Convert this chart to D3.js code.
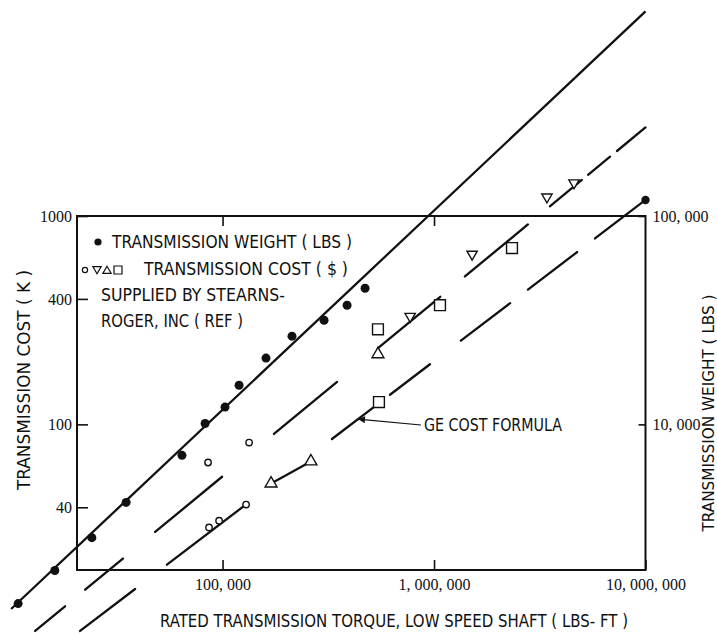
<!DOCTYPE html>
<html>
<head>
<meta charset="utf-8">
<script src="https://cdn.jsdelivr.net/npm/d3@7"></script>
<style>
  html, body { margin: 0; padding: 0; background: #fff; }
  svg { display: block; }
  .cap { font-family: "Liberation Sans Narrow", "Arial Narrow", "DejaVu Sans Condensed", sans-serif; fill: #111; }
  .num { font-family: "Liberation Serif", "DejaVu Serif", serif; fill: #111; }
</style>
</head>
<body>
<svg id="chart" width="717" height="637"></svg>
<script>
// ---- axis extents and ticks ----
const torqueExtent = [20500, 10000000];      // lbs-ft, low speed shaft
const costExtent = [20, 1000];               // $K
const weightExtent = [2000, 100000];         // lbs
const torqueTicks = [100000, 1000000, 10000000];
const torqueTickLabels = ["100, 000", "1, 000, 000", "10, 000, 000"];
const costTicks = [40, 100, 400, 1000];
const costTickLabels = ["40", "100", "400", "1000"];
const weightTicks = [10000, 100000];
const weightTickLabels = ["10, 000", "100, 000"];

// ---- transmission weight (lbs) ----
const weightTorque = [10800, 16100, 24100, 35000, 64300, 82700, 102700, 119700, 160500, 213000, 302000, 388000, 472000];
const weightLbs    = [1380, 1990, 2860, 4220, 7100, 10100, 12100, 15400, 20800, 26500, 31600, 37300, 45000];
const weightFitTorque = [10000, 10000000];
const weightFitLbs    = [1300, 960000];

// ---- transmission cost ($K), Stearns-Roger quotes ----
const circleTorque  = [85400, 86300, 96300, 129200, 133500];
const circleCost    = [65.6, 32.0, 34.5, 41.2, 81.8];
const triUpTorque   = [169600, 261700, 543000];
const triUpCost     = [52.0, 66.4, 217];
const triDownTorque = [771000, 1514000, 3420000, 4590000];
const triDownCost   = [330, 656, 1234, 1443];
const squareTorque  = [543000, 549000, 1067000, 2337000];
const squareCost    = [286, 128, 373, 702];

// ---- GE cost formula (upper and lower bands), drawn in broken runs ----
const geUpperTorque = [13000, 10000000];
const geUpperCost   = [10.2, 2660];
const geUpperRuns = [[13000, 18000], [22400, 33800], [48000, 99500], [175000, 348000],
  [543000, 1070000], [1400000, 2780000], [3530000, 5000000], [5350000, 6800000], [7330000, 10000000]];
const geLowerTorque = [21200, 10000000];
const geLowerCost   = [10.2, 1194];
const geLowerRuns = [[21200, 38600], [54600, 132000], [329000, 538000], [619000, 957000],
  [1340000, 2290000], [2780000, 4750000], [5770000, 10000000]];
const geArrowTorque = 437000;

// ---- layout ----
const svg = d3.select("#chart");
const ink = "#111";
const x = d3.scaleLog().domain(torqueExtent).range([77, 645.5]);
const y = d3.scaleLog().domain(costExtent).range([570, 216]);
const yW = d3.scaleLog().domain(weightExtent).range([570, 216]);

// straight line in log-log space through two anchor points
function powerLine(ts, vs) {
  const s = d3.scaleLinear().domain(ts.map(Math.log10)).range(vs.map(Math.log10));
  return t => Math.pow(10, s(Math.log10(t)));
}
const geUpper = powerLine(geUpperTorque, geUpperCost);
const geLower = powerLine(geLowerTorque, geLowerCost);

// frame
const [x0, x1] = x.range();
const [y0, y1] = y.range();
svg.append("path")
  .attr("d", `M${x0},${y1}L${x1},${y1}L${x1},${y0}L${x0},${y0}Z`)
  .attr("fill", "none").attr("stroke", ink).attr("stroke-width", 2);

// axes
function styleAxis(g) {
  g.select(".domain").remove();
  g.selectAll("line").attr("stroke", ink).attr("stroke-width", 1.6);
  g.selectAll("text").attr("class", "num").attr("font-size", 16);
}
svg.append("g").attr("transform", `translate(0,${y0})`)
  .call(d3.axisBottom(x).tickValues(torqueTicks).tickFormat((d, i) => torqueTickLabels[i])
    .tickSize(-10).tickSizeOuter(0).tickPadding(9))
  .call(styleAxis);
svg.append("g").attr("transform", `translate(0,${y1})`)
  .call(d3.axisTop(x).tickValues(torqueTicks.slice(0, 2)).tickFormat("")
    .tickSize(-10).tickSizeOuter(0))
  .call(styleAxis);
svg.append("g").attr("transform", `translate(${x0},0)`)
  .call(d3.axisLeft(y).tickValues(costTicks).tickFormat((d, i) => costTickLabels[i])
    .tickSize(-11).tickSizeOuter(0).tickPadding(5))
  .call(styleAxis);
svg.append("g").attr("transform", `translate(${x1},0)`)
  .call(d3.axisRight(yW).tickValues(weightTicks).tickFormat((d, i) => weightTickLabels[i])
    .tickSize(-7).tickSizeOuter(0).tickPadding(7))
  .call(styleAxis);

// axis titles
svg.append("text").attr("class", "cap").attr("font-size", 17)
  .attr("x", 160).attr("y", 627).attr("textLength", 468).attr("lengthAdjust", "spacingAndGlyphs")
  .text("RATED TRANSMISSION TORQUE, LOW SPEED SHAFT ( LBS- FT )");
svg.append("text").attr("class", "cap").attr("font-size", 17)
  .attr("transform", "translate(30,380) rotate(-90)").attr("text-anchor", "middle")
  .attr("textLength", 220).attr("lengthAdjust", "spacingAndGlyphs")
  .text("TRANSMISSION COST ( K )");
svg.append("text").attr("class", "cap").attr("font-size", 16)
  .attr("transform", "translate(714,413) rotate(-90)").attr("text-anchor", "middle")
  .attr("textLength", 237).attr("lengthAdjust", "spacingAndGlyphs")
  .text("TRANSMISSION WEIGHT ( LBS )");

// weight trend line
svg.append("line")
  .attr("x1", x(weightFitTorque[0])).attr("y1", yW(weightFitLbs[0]))
  .attr("x2", x(weightFitTorque[1])).attr("y2", yW(weightFitLbs[1]))
  .attr("stroke", ink).attr("stroke-width", 2.3);

// GE formula runs
function drawRuns(runs, fn) {
  svg.append("g").selectAll("line").data(runs).join("line")
    .attr("x1", d => x(d[0])).attr("y1", d => y(fn(d[0])))
    .attr("x2", d => x(d[1])).attr("y2", d => y(fn(d[1])))
    .attr("stroke", ink).attr("stroke-width", 2.3).attr("stroke-linecap", "round");
}
drawRuns(geUpperRuns, geUpper);
drawRuns(geLowerRuns, geLower);
// end marker of the lower band
svg.append("circle")
  .attr("cx", x(geLowerTorque[1])).attr("cy", y(geLowerCost[1])).attr("r", 4.2).attr("fill", ink);

// quote link between first two up-triangle points
svg.append("line")
  .attr("x1", x(triUpTorque[0])).attr("y1", y(triUpCost[0]))
  .attr("x2", x(triUpTorque[1])).attr("y2", y(triUpCost[1]))
  .attr("stroke", ink).attr("stroke-width", 2.2);

// weight points
svg.append("g").selectAll("circle").data(weightTorque).join("circle")
  .attr("cx", d => x(d)).attr("cy", (d, i) => yW(weightLbs[i])).attr("r", 4.5).attr("fill", ink);

// cost points
const hollow = g => g.attr("fill", "#fff").attr("stroke", ink).attr("stroke-width", 1.4);
svg.append("g").selectAll("circle").data(circleTorque).join("circle")
  .attr("cx", d => x(d)).attr("cy", (d, i) => y(circleCost[i])).attr("r", 3.2).call(hollow);
const triUp = d3.symbol(d3.symbolTriangle, 62);
const triDown = d3.symbol(d3.symbolTriangle, 46);
const square = d3.symbol(d3.symbolSquare, 118);
svg.append("g").selectAll("path").data(triUpTorque).join("path")
  .attr("d", triUp).attr("transform", (d, i) => `translate(${x(d)},${y(triUpCost[i])})`).call(hollow);
svg.append("g").selectAll("path").data(triDownTorque).join("path")
  .attr("d", triDown).attr("transform", (d, i) => `translate(${x(d)},${y(triDownCost[i])}) rotate(180)`).call(hollow);
svg.append("g").selectAll("path").data(squareTorque).join("path")
  .attr("d", square).attr("transform", (d, i) => `translate(${x(d)},${y(squareCost[i])})`).call(hollow);

// GE formula callout
const defs = svg.append("defs");
defs.append("marker").attr("id", "head").attr("viewBox", "0 0 10 10")
  .attr("refX", 10).attr("refY", 5).attr("markerWidth", 11).attr("markerHeight", 7)
  .attr("markerUnits", "userSpaceOnUse").attr("orient", "auto")
  .append("path").attr("d", "M0,0L10,5L0,10Z").attr("fill", ink);
svg.append("line")
  .attr("x1", 421).attr("y1", 425)
  .attr("x2", x(geArrowTorque)).attr("y2", y(geLower(geArrowTorque)))
  .attr("stroke", ink).attr("stroke-width", 1.2).attr("marker-end", "url(#head)");
svg.append("text").attr("class", "cap").attr("font-size", 17)
  .attr("x", 424).attr("y", 431).attr("textLength", 138).attr("lengthAdjust", "spacingAndGlyphs")
  .text("GE COST FORMULA");

// legend
const lg = svg.append("g");
lg.append("circle").attr("cx", 98).attr("cy", 242).attr("r", 3.6).attr("fill", ink);
lg.append("text").attr("class", "cap").attr("font-size", 17).attr("x", 112).attr("y", 248)
  .attr("textLength", 240).attr("lengthAdjust", "spacingAndGlyphs").text("TRANSMISSION WEIGHT ( LBS )");
const legendHollow = g => g.attr("fill", "none").attr("stroke", ink).attr("stroke-width", 1.2);
lg.append("circle").attr("cx", 85).attr("cy", 270).attr("r", 2.6).call(legendHollow);
lg.append("path").attr("d", d3.symbol(d3.symbolTriangle, 30)).attr("transform", "translate(97,269) rotate(180)").call(legendHollow);
lg.append("path").attr("d", d3.symbol(d3.symbolTriangle, 30)).attr("transform", "translate(107,271)").call(legendHollow);
lg.append("path").attr("d", d3.symbol(d3.symbolSquare, 64)).attr("transform", "translate(118,270)").call(legendHollow);
lg.append("text").attr("class", "cap").attr("font-size", 17).attr("x", 144).attr("y", 275)
  .attr("textLength", 204).attr("lengthAdjust", "spacingAndGlyphs").text("TRANSMISSION COST ( $ )");
lg.append("text").attr("class", "cap").attr("font-size", 17).attr("x", 101).attr("y", 301)
  .attr("textLength", 184).attr("lengthAdjust", "spacingAndGlyphs").text("SUPPLIED BY STEARNS-");
lg.append("text").attr("class", "cap").attr("font-size", 17).attr("x", 101).attr("y", 327)
  .attr("textLength", 142).attr("lengthAdjust", "spacingAndGlyphs").text("ROGER, INC ( REF )");
</script>
</body>
</html>
